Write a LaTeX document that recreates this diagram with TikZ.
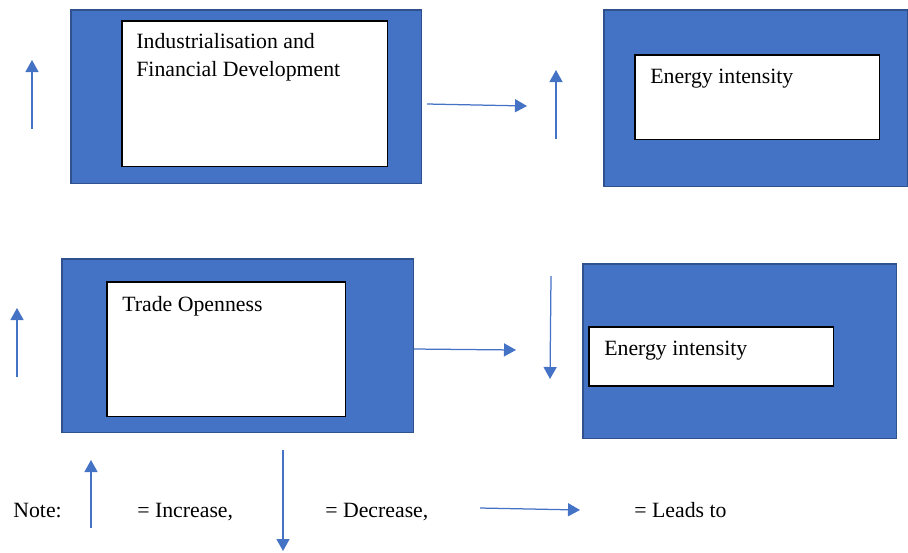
\documentclass[tikz,border=0pt]{standalone}
\usepackage{fontspec}
\setmainfont{Liberation Serif}
\usetikzlibrary{arrows.meta}
\definecolor{boxblue}{HTML}{4472C4}
\definecolor{boxedge}{HTML}{2F528F}
\tikzset{
  outerbox/.style={
    draw=boxedge,
    fill=boxblue,
    line width=0.03cm,
    anchor=north west,
    inner sep=0
  },
  innerbox/.style={
    draw=black,
    fill=white,
    line width=0.03cm,
    anchor=north west,
    inner sep=0
  },
  boxtext/.style={
    anchor=base west,
    inner sep=0,
    align=left,
    font=\fontsize{12.4}{15.4}\selectfont
  },
  flow/.style={
    draw=boxblue,
    line width=0.025cm,
    -{Triangle[length=0.24cm,width=0.26cm]}
  }
}

\begin{document}
\begin{tikzpicture}[x=0.02cm,y=-0.02cm]
        \useasboundingbox (0,0) rectangle (908,552);
        % upper row
        \node[outerbox,minimum width=7.02cm,minimum height=3.48cm] (indout) at (70,9) {};
        \node[innerbox,minimum width=5.32cm,minimum height=2.92cm] (indin) at (121,20) {};
        \node[boxtext] (indtxt) at (136,76) {Industrialisation and\\Financial Development};
        \node[outerbox,minimum width=6.08cm,minimum height=3.54cm] (eiaout) at (603,9) {};
        \node[innerbox,minimum width=4.9cm,minimum height=1.7cm] (eiain) at (634,54) {};
        \node[boxtext] (eiatxt) at (650,83) {Energy intensity};
        \coordinate (upa1) at (32,129);   \coordinate (upa2) at (32,60);
        \coordinate (lead1) at (427,104); \coordinate (lead2) at (527,106);
        \coordinate (upb1) at (556,139);  \coordinate (upb2) at (556,70);
        \draw[flow] (upa1)--(upa2);
        \draw[flow] (lead1)--(lead2);
        \draw[flow] (upb1)--(upb2);
        % lower row
        \node[outerbox,minimum width=7.04cm,minimum height=3.48cm] (troout) at (61,258) {};
        \node[innerbox,minimum width=4.78cm,minimum height=2.7cm] (troin) at (106,281) {};
        \node[boxtext] (trotxt) at (122,311) {Trade Openness};
        \node[outerbox,minimum width=6.28cm,minimum height=3.5cm] (eibout) at (582,263) {};
        \node[innerbox,minimum width=4.9cm,minimum height=1.18cm] (eibin) at (588,326) {};
        \node[boxtext] (eibtxt) at (604,355) {Energy intensity};
        \coordinate (upc1) at (17,377);   \coordinate (upc2) at (17,308);
        \coordinate (leadb1) at (414,349); \coordinate (leadb2) at (516,350);
        \coordinate (dna1) at (551,276);  \coordinate (dna2) at (550,379);
        \draw[flow] (upc1)--(upc2);
        \draw[flow] (leadb1)--(leadb2);
        \draw[flow] (dna1)--(dna2);
        % note
        \node[boxtext] (note) at (13,517) {Note:};
        \node[boxtext] (inc) at (137,517) {= Increase,};
        \node[boxtext] (dec) at (325,517) {= Decrease,};
        \node[boxtext] (leads) at (634,517) {= Leads to};
        \coordinate (keyup1) at (91,528);  \coordinate (keyup2) at (91,460);
        \coordinate (keydn1) at (283,450); \coordinate (keydn2) at (283,551);
        \coordinate (keyrt1) at (480,508); \coordinate (keyrt2) at (580,510);
        \draw[flow] (keyup1)--(keyup2);
        \draw[flow] (keydn1)--(keydn2);
        \draw[flow] (keyrt1)--(keyrt2);
    \end{tikzpicture}
\end{document}
